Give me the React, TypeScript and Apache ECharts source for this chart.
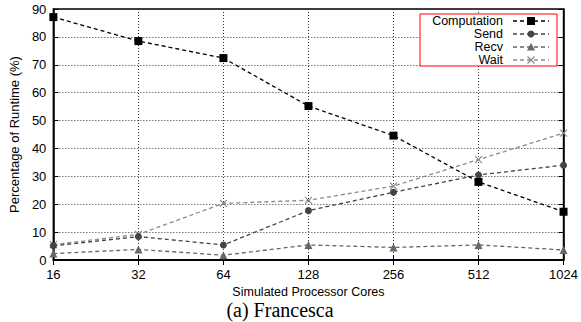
import React, { useEffect, useRef } from "react";
import * as echarts from "echarts";

const categories = ["16", "32", "64", "128", "256", "512", "1024"];
const computation = [87.1, 78.5, 72.4, 55.2, 44.6, 28.0, 17.3];
const send = [5.1, 8.4, 5.4, 17.7, 24.3, 30.5, 34.0];
const recv = [2.3, 3.8, 1.7, 5.4, 4.5, 5.4, 3.6];
const wait = [5.5, 9.2, 20.3, 21.4, 26.5, 36.0, 45.5];
const seriesNames = ["Computation", "Send", "Recv", "Wait"];
const seriesColors = ["#000000", "#444444", "#666666", "#8a8a8a"];
const seriesSymbols = ["rect", "circle", "triangle", "cross"];
const yTicks = { min: 0, max: 90, interval: 10 };
const crossPath = "path://M0,0L10,10M10,0L0,10";

export default function App() {
  const ref = useRef<HTMLDivElement>(null);
  useEffect(() => {
    if (!ref.current) return;
    const chart = echarts.init(ref.current, undefined, { renderer: "svg" });
    const data = [computation, send, recv, wait];
    const font = "'Liberation Sans', Arial, sans-serif";
    const dash = [4, 3];

    const series = seriesNames.map((name, i) => {
      const isCross = seriesSymbols[i] === "cross";
      return {
        name,
        type: "line",
        data: data[i],
        symbol: isCross ? crossPath : seriesSymbols[i],
        symbolSize: isCross ? 7 : seriesSymbols[i] === "circle" ? 7 : 8,
        lineStyle: { color: seriesColors[i], width: 1.3, type: dash },
        itemStyle: isCross
          ? { color: "none", borderColor: seriesColors[i], borderWidth: 1.2 }
          : { color: seriesColors[i] },
        z: 10 - i,
      };
    });

    const lx0 = 420, ly0 = 14, lw = 137, lh = 52;
    const rowY = [21, 34, 47, 60];
    const els: any[] = [
      {
        type: "rect",
        shape: { x: lx0, y: ly0, width: lw, height: lh },
        style: { fill: "#fff", stroke: "#ff0000", lineWidth: 1 },
        z: 100,
      },
    ];
    seriesNames.forEach((name, i) => {
      const y = rowY[i];
      const c = seriesColors[i];
      els.push({
        type: "text",
        x: 503,
        y,
        style: {
          text: name,
          fill: "#000",
          font: `12.5px ${font}`,
          align: "right",
          verticalAlign: "middle",
        },
        z: 101,
      });
      els.push({
        type: "line",
        shape: { x1: 513, y1: y, x2: 549, y2: y },
        style: { stroke: c, lineWidth: 1.3, lineDash: [4, 3] },
        z: 101,
      });
      const cx = 531;
      const s = seriesSymbols[i];
      if (s === "rect") {
        els.push({ type: "rect", shape: { x: cx - 4, y: y - 4, width: 8, height: 8 }, style: { fill: c }, z: 102 });
      } else if (s === "circle") {
        els.push({ type: "circle", shape: { cx, cy: y, r: 3.5 }, style: { fill: c }, z: 102 });
      } else if (s === "triangle") {
        els.push({ type: "polygon", shape: { points: [[cx, y - 4], [cx + 4, y + 3.5], [cx - 4, y + 3.5]] }, style: { fill: c }, z: 102 });
      } else {
        els.push({ type: "line", shape: { x1: cx - 3.5, y1: y - 3.5, x2: cx + 3.5, y2: y + 3.5 }, style: { stroke: c, lineWidth: 1.2 }, z: 102 });
        els.push({ type: "line", shape: { x1: cx + 3.5, y1: y - 3.5, x2: cx - 3.5, y2: y + 3.5 }, style: { stroke: c, lineWidth: 1.2 }, z: 102 });
      }
    });

    els.push({
      type: "text",
      x: 280,
      y: 310,
      style: {
        text: "(a) Francesca",
        fill: "#000",
        font: `20px 'Liberation Serif', 'Times New Roman', serif`,
        align: "center",
        verticalAlign: "middle",
      },
    });

    const axisLineStyle = { color: "#000", width: 1.5 };
    const option: any = {
      animation: false,
      backgroundColor: "#fff",
      grid: {
        left: 42,
        right: 16,
        top: 9,
        bottom: 62,
        show: true,
        borderColor: "#000",
        borderWidth: 1.5,
      },
      xAxis: [
        {
          type: "category",
          data: categories,
          boundaryGap: false,
          name: "Simulated Processor Cores",
          nameLocation: "middle",
          nameGap: 19,
          nameTextStyle: { fontFamily: font, fontSize: 12.5, color: "#000" },
          axisLine: { show: true, lineStyle: axisLineStyle },
          axisTick: { show: true, inside: true, length: 5, lineStyle: { color: "#000" } },
          axisLabel: { fontFamily: font, fontSize: 13, color: "#000", margin: 8 },
          splitLine: { show: true, lineStyle: { color: "#333", type: [1, 2], width: 1 } },
        },
        {
          type: "category",
          data: categories,
          boundaryGap: false,
          position: "top",
          axisLine: { show: true, lineStyle: axisLineStyle },
          axisTick: { show: true, inside: true, length: 5, lineStyle: { color: "#000" } },
          axisLabel: { show: false },
          splitLine: { show: false },
        },
      ],
      yAxis: [
        {
          type: "value",
          min: yTicks.min,
          max: yTicks.max,
          interval: yTicks.interval,
          name: "Percentage of Runtime (%)",
          nameLocation: "middle",
          nameGap: 18,
          nameRotate: 90,
          nameTextStyle: { fontFamily: font, fontSize: 13, color: "#000" },
          axisLine: { show: true, lineStyle: axisLineStyle },
          axisTick: { show: true, inside: true, length: 5, lineStyle: { color: "#000" } },
          axisLabel: { fontFamily: font, fontSize: 13, color: "#000", margin: 7 },
          splitLine: { show: true, lineStyle: { color: "#333", type: [1, 2], width: 1 } },
        },
        {
          type: "value",
          min: yTicks.min,
          max: yTicks.max,
          interval: yTicks.interval,
          position: "right",
          axisLine: { show: true, lineStyle: axisLineStyle },
          axisTick: { show: true, inside: true, length: 5, lineStyle: { color: "#000" } },
          axisLabel: { show: false },
          splitLine: { show: false },
        },
      ],
      series,
      graphic: els,
    };
    chart.setOption(option);
    return () => chart.dispose();
  }, []);
  return (
    <div
      ref={ref}
      style={{ position: "absolute", left: 0, top: 0, width: 581, height: 322 }}
    />
  );
}
